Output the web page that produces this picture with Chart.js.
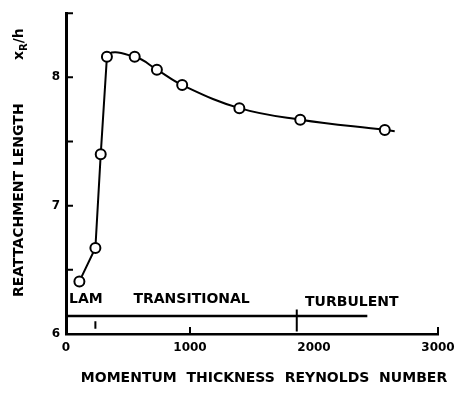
<!DOCTYPE html>
<html lang="en">
  <head>
    <meta charset="UTF-8" />
    <title>Reattachment Length vs Momentum Thickness Reynolds Number</title>
    <script src="https://cdn.jsdelivr.net/npm/chart.js"></script>
    <style>
      body {
        margin: 0;
        background-color: #fff;
      }
      canvas {
        display: block;
      }
    </style>
  </head>
  <body>
    <canvas id="reattachChart" width="462" height="400"></canvas>

    <script>
      const reynolds = [108, 237, 280, 330, 554, 733, 937, 1398, 1889, 2571];
      const reattachLength = [6.41, 6.67, 7.4, 8.16, 8.16, 8.06, 7.94, 7.76, 7.67, 7.59];
      // the faired curve runs a little past the last point
      const curveEndX = 2651;
      const curveEndY = 7.58;
      // first 4 points are joined by straight lines, the rest by a smooth curve
      const straightCount = 4;

      const xTickLabels = [0, 1000, 2000, 3000];
      const yTickLabels = [6, 7, 8];
      const xTickMarks = [1000, 3000];
      const yTickMarks = [6.5, 7, 7.5, 8, 8.5];

      // flow regime bar along the bottom
      const regimeBarY = 6.14;
      const regimeBarEnd = 2430;
      const regimeNames = ["LAM", "TRANSITIONAL", "TURBULENT"];
      const regimeNameX = [24, 544, 1928];
      const regimeNameY = [6.27, 6.27, 6.25];
      const regimeBoundaryX = [237, 1861];
      const regimeBoundaryLow = [6.04, 6.02];
      const regimeBoundaryHigh = [6.1, 6.19];

      const xTitle = "MOMENTUM  THICKNESS  REYNOLDS  NUMBER";
      const yTitle = "REATTACHMENT LENGTH";

      Chart.defaults.font.family = "'DejaVu Sans', sans-serif";
      Chart.defaults.color = "#000";

      const measured = reynolds.map((v, i) => ({ x: v, y: reattachLength[i] }));
      const straightPart = measured.slice(0, straightCount);
      // smooth part starts one point early so the bend at the peak comes out right;
      // that first segment is left invisible
      const smoothPart = measured.slice(straightCount - 2).concat([{ x: curveEndX, y: curveEndY }]);

      // tick marks pointing inward, regime labels and axis titles
      const annotate = {
        id: "annotate",
        afterDatasetsDraw(chart) {
          const { ctx } = chart;
          const x = chart.scales.x;
          const y = chart.scales.y;
          ctx.save();
          ctx.strokeStyle = "#000";
          ctx.fillStyle = "#000";
          ctx.lineWidth = 2;
          ctx.beginPath();
          yTickMarks.forEach((v) => {
            const py = y.getPixelForValue(v);
            ctx.moveTo(x.left, py);
            ctx.lineTo(x.left + 7, py);
          });
          xTickMarks.forEach((v) => {
            const px = x.getPixelForValue(v);
            ctx.moveTo(px, y.bottom);
            ctx.lineTo(px, y.bottom - 7);
          });
          regimeBoundaryX.forEach((v, i) => {
            const px = x.getPixelForValue(v);
            ctx.moveTo(px, y.getPixelForValue(regimeBoundaryLow[i]));
            ctx.lineTo(px, y.getPixelForValue(regimeBoundaryHigh[i]));
          });
          ctx.stroke();

          ctx.font = "bold 14px 'DejaVu Sans'";
          ctx.textBaseline = "middle";
          ctx.textAlign = "left";
          regimeNames.forEach((name, i) => {
            ctx.fillText(name, x.getPixelForValue(regimeNameX[i]), y.getPixelForValue(regimeNameY[i]));
          });

          ctx.textAlign = "center";
          ctx.fillText(xTitle, 264, 378);

          // vertical title, with x_R/h after it
          ctx.translate(23, 297);
          ctx.rotate(-Math.PI / 2);
          ctx.textAlign = "left";
          ctx.textBaseline = "alphabetic";
          ctx.fillText(yTitle, 0, 0);
          let pos = 237;
          ctx.fillText("x", pos, 0);
          pos += ctx.measureText("x").width;
          ctx.font = "bold 10px 'DejaVu Sans'";
          ctx.fillText("R", pos, 4);
          pos += ctx.measureText("R").width;
          ctx.font = "bold 14px 'DejaVu Sans'";
          ctx.fillText("/h", pos, 0);
          ctx.restore();
        },
      };

      new Chart(document.getElementById("reattachChart"), {
        type: "scatter",
        data: {
          datasets: [
            {
              data: measured,
              showLine: false,
              pointRadius: 5,
              pointBorderWidth: 2,
              pointBackgroundColor: "#fff",
              pointBorderColor: "#000",
            },
            {
              data: straightPart,
              showLine: true,
              tension: 0,
              pointRadius: 0,
              borderColor: "#000",
              borderWidth: 2,
            },
            {
              data: smoothPart,
              showLine: true,
              tension: 0.4,
              pointRadius: 0,
              borderColor: "#000",
              borderWidth: 2,
              segment: {
                borderColor: (c) => (c.p0DataIndex === 0 ? "rgba(0,0,0,0)" : "#000"),
              },
            },
            {
              data: [
                { x: 0, y: regimeBarY },
                { x: regimeBarEnd, y: regimeBarY },
              ],
              showLine: true,
              pointRadius: 0,
              borderColor: "#000",
              borderWidth: 2.5,
            },
          ],
        },
        options: {
          responsive: false,
          animation: false,
          layout: {
            padding: { left: 0, right: 24, top: 9, bottom: 0 },
          },
          plugins: {
            legend: { display: false },
            tooltip: { enabled: false },
          },
          scales: {
            x: {
              type: "linear",
              min: 0,
              max: 3000,
              grid: { display: false, drawTicks: false },
              border: { display: true, color: "#000", width: 2.5 },
              ticks: {
                padding: 7,
                font: { size: 12, weight: "bold" },
                callback: (v) => String(v),
              },
              afterBuildTicks: (scale) => {
                scale.ticks = xTickLabels.map((v) => ({ value: v }));
              },
              afterFit: (scale) => {
                scale.height = 66;
              },
            },
            y: {
              min: 6,
              max: 8.5,
              grid: { display: false, drawTicks: false },
              border: { display: true, color: "#000", width: 3 },
              ticks: {
                padding: 6,
                font: { size: 12, weight: "bold" },
                callback: (v) => String(v),
              },
              afterBuildTicks: (scale) => {
                scale.ticks = yTickLabels.map((v) => ({ value: v }));
              },
              afterFit: (scale) => {
                scale.width = 66;
              },
            },
          },
        },
        plugins: [annotate],
      });
    </script>
  </body>
</html>
